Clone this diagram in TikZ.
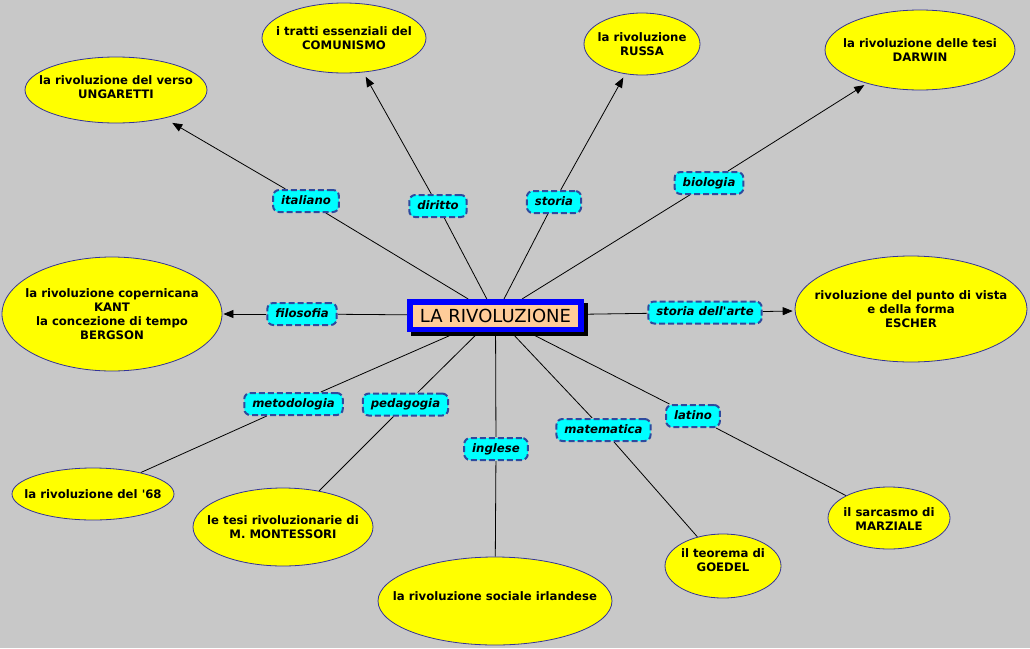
\documentclass[tikz,border=0pt]{standalone}
\usepackage{fontspec}
\newfontfamily\mainf{DejaVu Sans}
\usetikzlibrary{arrows.meta,backgrounds,calc,shapes.geometric}
\definecolor{bgc}{HTML}{C8C8C8}
\definecolor{ellfill}{HTML}{FFFF00}
\definecolor{ellline}{HTML}{333399}
\definecolor{lblfill}{HTML}{00FFFF}
\definecolor{lblline}{HTML}{2E4A9E}
\definecolor{peach}{HTML}{FFCC99}
\definecolor{cblue}{HTML}{0000FF}
\tikzset{
  ell/.style={ellipse, fill=ellfill, draw=ellline, line width=0.8pt, inner sep=0pt},
  etext/.style={align=center, inner sep=0pt, font=\mainf\bfseries\fontsize{11.7}{14}\selectfont},
  lbl/.style={rectangle, rounded corners=6pt, fill=lblfill, draw=lblline, line width=2pt,
    dash pattern=on 6pt off 3pt, inner xsep=8pt, inner ysep=3pt, minimum height=22pt,
    text height=9pt, text depth=3pt,
    font=\mainf\bfseries\itshape\fontsize{11.7}{14}\selectfont},
  conn/.style={line width=0.8pt, black},
  arr/.style={conn, -{Triangle[length=10pt,width=8pt]}},
}
\begin{document}
\begin{tikzpicture}[x=1pt,y=-1pt]
\useasboundingbox (0,0) rectangle (1030,648);
% central node
\node[draw=cblue, fill=peach, line width=5.5pt, minimum width=171pt, minimum height=27.5pt,
  inner sep=0pt, font=\mainf\fontsize{18}{20}\selectfont] (c) at (495.5,315.5) {LA RIVOLUZIONE};
% labels
\node[lbl] (ita) at (306,201) {italiano};
\node[lbl] (dir) at (438,206) {diritto};
\node[lbl] (sto) at (554,202) {storia};
\node[lbl] (bio) at (709,183) {biologia};
\node[lbl] (fil) at (302,314) {filosofia};
\node[lbl] (arte) at (705,312.5) {storia dell'arte};
\node[lbl] (met) at (293.5,404) {metodologia};
\node[lbl] (ped) at (405.5,404.5) {pedagogia};
\node[lbl] (ing) at (496,449) {inglese};
\node[lbl] (mat) at (603.5,430) {matematica};
\node[lbl] (lat) at (693,416) {latino};
% ellipses
\node[ell, minimum width=182pt, minimum height=66pt,
  label={[etext,yshift=2.5pt]center:la rivoluzione del verso\\UNGARETTI}] (ung) at (116,90) {};
\node[ell, minimum width=164pt, minimum height=70pt,
  label={[etext]center:i tratti essenziali del\\COMUNISMO}] (com) at (344,38) {};
\node[ell, minimum width=116pt, minimum height=62pt,
  label={[etext]center:la rivoluzione\\RUSSA}] (rus) at (642,44) {};
\node[ell, minimum width=190pt, minimum height=80pt,
  label={[etext]center:la rivoluzione delle tesi\\DARWIN}] (dar) at (920,50) {};
\node[ell, minimum width=220pt, minimum height=114pt,
  label={[etext]center:la rivoluzione copernicana\\KANT\\la concezione di tempo\\BERGSON}] (kant) at (112,314) {};
\node[ell, minimum width=232pt, minimum height=106pt,
  label={[etext]center:rivoluzione del punto di vista\\e della forma\\ESCHER}] (esc) at (911,309) {};
\node[ell, minimum width=162pt, minimum height=52pt,
  label={[etext]center:la rivoluzione del '68}] (e68) at (93,494) {};
\node[ell, minimum width=180pt, minimum height=78pt,
  label={[etext]center:le tesi rivoluzionarie di\\M. MONTESSORI}] (mon) at (283,527) {};
\node[ell, minimum width=234pt, minimum height=88pt,
  label={[etext,yshift=5pt]center:la rivoluzione sociale irlandese}] (irl) at (495,601) {};
\node[ell, minimum width=116pt, minimum height=64pt,
  label={[etext,yshift=6pt]center:il teorema di\\GOEDEL}] (goe) at (723,566) {};
\node[ell, minimum width=122pt, minimum height=62pt,
  label={[etext,yshift=-1pt]center:il sarcasmo di\\MARZIALE}] (mar) at (889,518) {};
\begin{pgfonlayer}{background}
\fill[bgc] (0,0) rectangle (1030,648);
\fill[black] ($(c.north west)+(4,4)$) rectangle ($(c.south east)+(4,4)$);
% center to labels
\foreach \n in {ita,dir,sto,bio,fil,arte,met,ped,ing,mat,lat} \draw[conn] (c) -- (\n);
% labels to concepts
\draw[arr, shorten >=9pt] (ita) -- (ung);
\draw[arr, shorten >=5pt] (dir) -- (com);
\draw[arr, shorten >=4pt] (sto) -- (rus);
\draw[arr, shorten >=3pt] (bio) -- (dar);
\draw[arr, shorten >=1pt] (fil) -- (kant);
\draw[arr, shorten >=2pt] (arte) -- (esc);
\draw[conn] (met) -- (e68);
\draw[conn] (ped) -- (mon);
\draw[conn] (ing) -- (irl);
\draw[conn] (mat) -- (goe);
\draw[conn] (lat) -- (mar);
\end{pgfonlayer}
\end{tikzpicture}
\end{document}
